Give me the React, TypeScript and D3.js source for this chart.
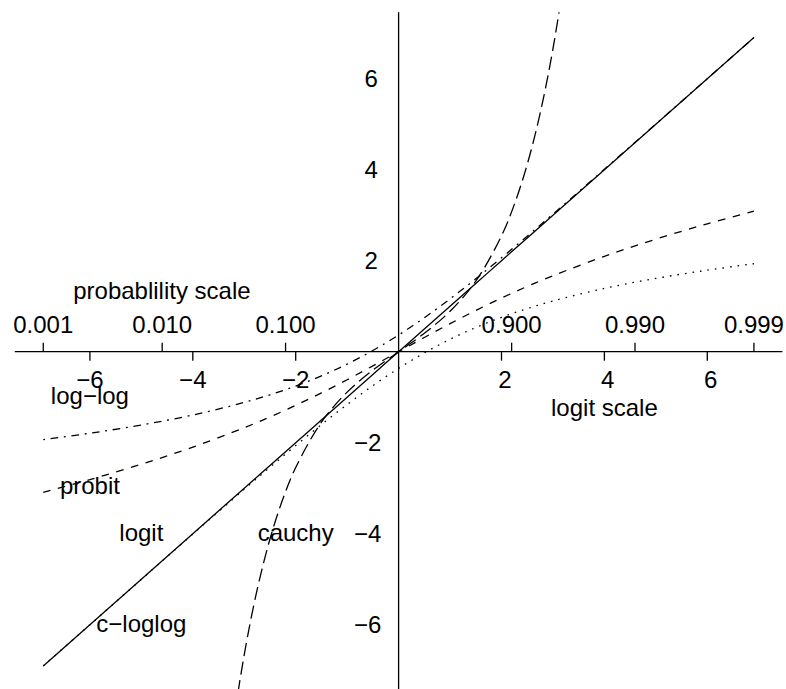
import React from "react";
import * as d3 from "d3";

// Logit-scale grid and link-function values
const X_GRID = [-6.907, -6, -5, -4, -3, -2.5, -2, -1.5, -1, -0.5, 0, 0.5, 1, 1.5, 2, 2.5, 3, 4, 5, 6, 6.907];
const LOGIT = [-6.907, -6, -5, -4, -3, -2.5, -2, -1.5, -1, -0.5, 0, 0.5, 1, 1.5, 2, 2.5, 3, 4, 5, 6, 6.907];
const PROBIT = [-3.09, -2.811, -2.473, -2.097, -1.67, -1.434, -1.179, -0.906, -0.616, -0.312, 0, 0.312, 0.616, 0.906, 1.179, 1.434, 1.67, 2.097, 2.473, 2.811, 3.09];
const LOGLOG = [-1.933, -1.792, -1.611, -1.391, -1.115, -0.947, -0.755, -0.531, -0.2725, 0.0263, 0.3665, 0.7464, 1.1607, 1.6024, 2.0642, 2.5397, 3.0244, 4.0091, 5.0033, 6.0012, 6.906];
const CLOGLOG = [-6.906, -6.0012, -5.0033, -4.0091, -3.0244, -2.5397, -2.0642, -1.6024, -1.1607, -0.7464, -0.3665, -0.0263, 0.2725, 0.531, 0.755, 0.947, 1.115, 1.391, 1.611, 1.792, 1.933];
const CAUCHY_X = [-3.5, -3.25, -3, -2.75, -2.5, -2.25, -2, -1.5, -1, -0.5, 0, 0.5, 1, 1.5, 2, 2.25, 2.5, 2.75, 3, 3.25, 3.5];
const CAUCHY = [-10.829, -8.488, -6.657, -5.235, -4.117, -3.238, -2.546, -1.55, -0.888, -0.405, 0, 0.405, 0.888, 1.55, 2.546, 3.238, 4.117, 5.235, 6.657, 8.488, 10.829];

// Axis ticks
const LOGIT_TICKS = [-6, -4, -2, 2, 4, 6];
const LOGIT_TICK_LABELS = ["\u22126", "\u22124", "\u22122", " 2", " 4", " 6"];
const Y_TICKS = [6, 4, 2, -2, -4, -6];
const Y_TICK_LABELS = [" 6", " 4", " 2", "\u22122", "\u22124", "\u22126"];
const PROB_TICKS = [0.001, 0.01, 0.1, 0.9, 0.99, 0.999];
const PROB_TICK_LABELS = ["0.001", "0.010", "0.100", "0.900", "0.990", "0.999"];

const W = 786;
const H = 689;
const FONT = "'Liberation Sans', Arial, Helvetica, sans-serif";

export default function App() {
  const x = d3.scaleLinear().domain([-7.46, 7.46]).range([14.8, 782.4]);
  const y = d3.scaleLinear().domain([-7.46, 7.46]).range([691.1, 12.3]);
  const logit = (p: number) => Math.log(p / (1 - p));

  const line = d3
    .line<[number, number]>()
    .x((d) => x(d[0]))
    .y((d) => y(d[1]))
    .curve(d3.curveCatmullRom.alpha(0.5));

  const zip = (xs: number[], ys: number[]) => xs.map((v, i) => [v, ys[i]] as [number, number]);

  const series = [
    { vals: zip(X_GRID, LOGIT), dash: "none" },
    { vals: zip(X_GRID, PROBIT), dash: "7.6,7.6" },
    { vals: zip(CAUCHY_X, CAUCHY), dash: "13.3,5.7" },
    { vals: zip(X_GRID, LOGLOG), dash: "1.9,5.7,7.6,5.7" },
    { vals: zip(X_GRID, CLOGLOG), dash: "1.6,6" },
  ];

  const y0 = y(0);
  const x0 = x(0);
  const fs = 24;

  const label = (txt: string, dx: number, dyBase: number) => (
    <text x={x(dx)} y={y(dyBase)} textAnchor="middle" fontSize={fs} fontFamily={FONT} fill="#000">
      {txt}
    </text>
  );

  return (
    <svg
      width={W}
      height={H}
      style={{ position: "absolute", left: 0, top: 0, display: "block", background: "#fff" }}
    >
      <rect x={0} y={0} width={W} height={H} fill="#fff" />
      <defs>
        <clipPath id="plotclip">
          <rect x={x(-7.46)} y={y(7.46)} width={x(7.46) - x(-7.46)} height={y(-7.46) - y(7.46)} />
        </clipPath>
      </defs>

      {/* axes through the origin */}
      <line x1={x(-7.46)} x2={x(7.46)} y1={y0} y2={y0} stroke="#000" strokeWidth={1.3} />
      <line x1={x0} x2={x0} y1={y(7.46)} y2={y(-7.46)} stroke="#000" strokeWidth={1.3} />

      {/* logit ticks below */}
      {LOGIT_TICKS.map((t, i) => (
        <g key={"lt" + i}>
          <line x1={x(t)} x2={x(t)} y1={y0} y2={y0 + 9} stroke="#000" strokeWidth={1.3} />
          <text
            x={x(t)}
            y={y0 + 36.6}
            textAnchor="middle"
            fontSize={fs}
            fontFamily={FONT}
            style={{ whiteSpace: "pre" }}
          >
            {LOGIT_TICK_LABELS[i]}
          </text>
        </g>
      ))}

      {/* probability ticks above */}
      {PROB_TICKS.map((p, i) => (
        <g key={"pt" + i}>
          <line x1={x(logit(p))} x2={x(logit(p))} y1={y0} y2={y0 - 9} stroke="#000" strokeWidth={1.3} />
          <text x={x(logit(p))} y={y0 - 18.4} textAnchor="middle" fontSize={fs} fontFamily={FONT}>
            {PROB_TICK_LABELS[i]}
          </text>
        </g>
      ))}

      {/* y labels */}
      {Y_TICKS.map((t, i) => (
        <text
          key={"yt" + i}
          x={x(-0.6)}
          y={y(t) + 8}
          textAnchor="middle"
          fontSize={fs}
          fontFamily={FONT}
          style={{ whiteSpace: "pre" }}
        >
          {Y_TICK_LABELS[i]}
        </text>
      ))}

      {/* curves */}
      <g clipPath="url(#plotclip)">
        {series.map((s, i) => (
          <path
            key={"s" + i}
            d={line(s.vals) || ""}
            fill="none"
            stroke="#000"
            strokeWidth={1.3}
            strokeDasharray={s.dash}
          />
        ))}
      </g>

      {/* annotations */}
      {label("probablility scale", -4.6, 1.158)}
      {label("logit scale", 4.0, -1.424)}
      {label("log\u2212log", -6.0, -1.149)}
      {label("probit", -6.0, -3.127)}
      {label("logit", -5.0, -4.154)}
      {label("cauchy", -2.0, -4.154)}
      {label("c\u2212loglog", -5.0, -6.154)}
    </svg>
  );
}
